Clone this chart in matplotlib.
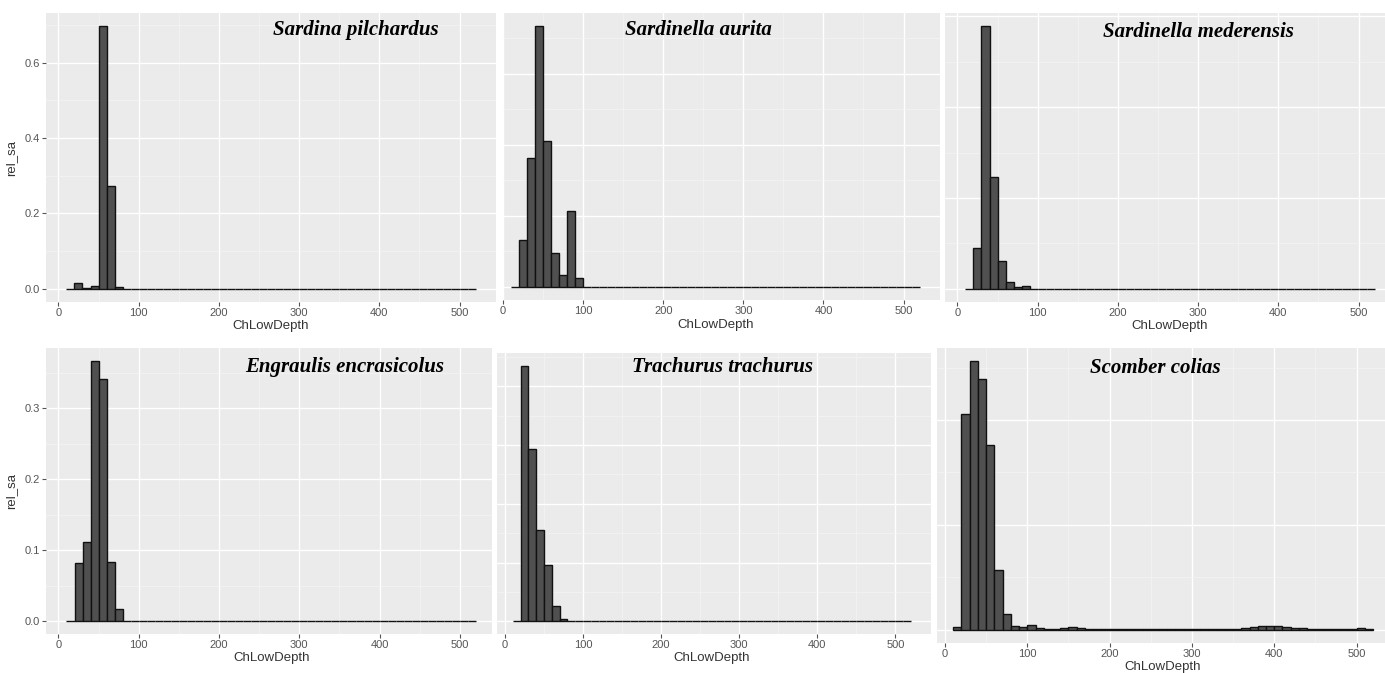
import matplotlib
matplotlib.use("Agg")
import matplotlib.pyplot as plt
from matplotlib.ticker import MultipleLocator
from matplotlib.transforms import blended_transform_factory

# bins of 10 m, starting at 10 m and ending at 520 m
bin_left = list(range(10, 520, 10))

species = ["Sardina pilchardus", "Sardinella aurita", "Sardinella mederensis",
           "Engraulis encrasicolus", "Trachurus trachurus", "Scomber colias"]

sardina = [0.0, 0.016, 0.002, 0.007, 0.697, 0.274, 0.004, 0.0, 0.0, 0.0,
           0.0, 0.0, 0.0, 0.0, 0.0, 0.0, 0.0, 0.0, 0.0, 0.0,
           0.0, 0.0, 0.0, 0.0, 0.0, 0.0, 0.0, 0.0, 0.0, 0.0,
           0.0, 0.0, 0.0, 0.0, 0.0, 0.0, 0.0, 0.0, 0.0, 0.0,
           0.0, 0.0, 0.0, 0.0, 0.0, 0.0, 0.0, 0.0, 0.0, 0.0, 0.0]
aurita = [0.0, 0.066, 0.182, 0.367, 0.205, 0.048, 0.017, 0.107, 0.012, 0.0,
          0.0, 0.0, 0.0, 0.0, 0.0, 0.0, 0.0, 0.0, 0.0, 0.0,
          0.0, 0.0, 0.0, 0.0, 0.0, 0.0, 0.0, 0.0, 0.0, 0.0,
          0.0, 0.0, 0.0, 0.0, 0.0, 0.0, 0.0, 0.0, 0.0, 0.0,
          0.0, 0.0, 0.0, 0.0, 0.0, 0.0, 0.0, 0.0, 0.0, 0.0, 0.0]
mederensis = [0.0, 0.091, 0.578, 0.246, 0.061, 0.015, 0.004, 0.007, 0.0, 0.0,
              0.0, 0.0, 0.0, 0.0, 0.0, 0.0, 0.0, 0.0, 0.0, 0.0,
              0.0, 0.0, 0.0, 0.0, 0.0, 0.0, 0.0, 0.0, 0.0, 0.0,
              0.0, 0.0, 0.0, 0.0, 0.0, 0.0, 0.0, 0.0, 0.0, 0.0,
              0.0, 0.0, 0.0, 0.0, 0.0, 0.0, 0.0, 0.0, 0.0, 0.0, 0.0]
engraulis = [0.0, 0.082, 0.112, 0.367, 0.341, 0.083, 0.017, 0.0, 0.0, 0.0,
             0.0, 0.0, 0.0, 0.0, 0.0, 0.0, 0.0, 0.0, 0.0, 0.0,
             0.0, 0.0, 0.0, 0.0, 0.0, 0.0, 0.0, 0.0, 0.0, 0.0,
             0.0, 0.0, 0.0, 0.0, 0.0, 0.0, 0.0, 0.0, 0.0, 0.0,
             0.0, 0.0, 0.0, 0.0, 0.0, 0.0, 0.0, 0.0, 0.0, 0.0, 0.0]
trachurus = [0.0, 0.435, 0.294, 0.155, 0.095, 0.026, 0.003, 0.0, 0.0, 0.0,
             0.0, 0.0, 0.0, 0.0, 0.0, 0.0, 0.0, 0.0, 0.0, 0.0,
             0.0, 0.0, 0.0, 0.0, 0.0, 0.0, 0.0, 0.0, 0.0, 0.0,
             0.0, 0.0, 0.0, 0.0, 0.0, 0.0, 0.0, 0.0, 0.0, 0.0,
             0.0, 0.0, 0.0, 0.0, 0.0, 0.0, 0.0, 0.0, 0.0, 0.0, 0.0]
scomber = [0.002, 0.206, 0.256, 0.239, 0.176, 0.057, 0.015, 0.0035, 0.002, 0.004,
           0.0013, 0.0008, 0.001, 0.0015, 0.0028, 0.0015, 0.0004, 0.0003, 0.0002, 0.0002,
           0.0001, 0.0002, 0.0002, 0.0001, 0.0001, 0.0002, 0.0002, 0.0001, 0.0002, 0.0003,
           0.0002, 0.0002, 0.0003, 0.0004, 0.0008, 0.0013, 0.002, 0.003, 0.003, 0.0032,
           0.002, 0.0013, 0.0011, 0.0008, 0.0004, 0.0003, 0.0003, 0.0004, 0.0005, 0.0011, 0.0006]

series = [sardina, aurita, mederensis, engraulis, trachurus, scomber]
y_major = [0.2, 0.1, 0.2, 0.1, 0.1, 0.1]

# panel layout in pixels of the collage: left, top, right, bottom, x limits
W, H = 1385, 673
panels = [
    (46, 13, 496, 302, (-15.5, 545.5)),
    (503, 13, 940, 300, (0.0, 545.5)),
    (945, 13, 1385, 302, (-15.5, 533.0)),
    (46, 348, 492, 634, (-15.5, 540.0)),
    (497, 353, 931, 634, (-10.2, 545.5)),
    (937, 348, 1385, 643, (-9.7, 534.6)),
]
title_pos = [(356, 30), (698, 30), (1198, 32), (345, 367), (723, 367), (1155, 368)]
xlabel_y = [326, 325, 326, 658, 658, 667]
show_y = [True, False, False, True, False, False]

plt.rcParams['font.family'] = ['Liberation Sans', 'DejaVu Sans']

fig = plt.figure(figsize=(W / 100, H / 100), dpi=100)

for i in range(6):
    left, top, right, bottom, xlim = panels[i]
    ax = fig.add_axes([left / W, 1 - bottom / H, (right - left) / W, (bottom - top) / H])
    ax.set_facecolor('#EBEBEB')
    vals = series[i]
    ymax = max(vals)
    ax.set_ylim(-0.05 * ymax, 1.05 * ymax)
    ax.set_xlim(*xlim)

    ax.xaxis.set_major_locator(MultipleLocator(100))
    ax.xaxis.set_minor_locator(MultipleLocator(50))
    ax.yaxis.set_major_locator(MultipleLocator(y_major[i]))
    ax.yaxis.set_minor_locator(MultipleLocator(y_major[i] / 2))
    ax.grid(which='major', color='white', linewidth=1.0)
    ax.grid(which='minor', color='#F5F5F5', linewidth=0.5)
    ax.set_axisbelow(True)
    for s in ax.spines.values():
        s.set_visible(False)

    ax.bar(bin_left, vals, width=10, align='edge', color='#505050',
           edgecolor='#111111', linewidth=1.0, zorder=3)

    ax.tick_params(axis='x', which='major', length=3, width=0.8, color='#555555',
                   labelsize=8, labelcolor='#555555', pad=1.5)
    ax.tick_params(which='minor', length=0)
    if show_y[i]:
        ax.tick_params(axis='y', which='major', length=3, width=0.8, color='#555555',
                       labelsize=8, labelcolor='#555555', pad=1.5)
        ax.yaxis.set_major_formatter(lambda v, p: f"{v:.1f}")
        ax.set_ylabel("rel_sa", fontsize=9.5, color='#333333')
        ax.yaxis.set_label_coords(-29 / (right - left), 0.5)
    else:
        ax.tick_params(axis='y', which='major', length=0, labelleft=False)

    ax.set_xlabel("ChLowDepth", fontsize=9.5, color='#333333', va='center')
    tr = blended_transform_factory(ax.transData, ax.transAxes)
    ax.xaxis.set_label_coords(265, -(xlabel_y[i] - bottom) / (bottom - top), transform=tr)

    tx, ty = title_pos[i]
    fig.text(tx / W, 1 - ty / H, species[i], ha='center', va='center',
             fontsize=15, fontweight='bold', fontstyle='italic',
             family=['Liberation Serif', 'DejaVu Serif'])

fig.savefig("out.png", dpi=100, facecolor='white')
